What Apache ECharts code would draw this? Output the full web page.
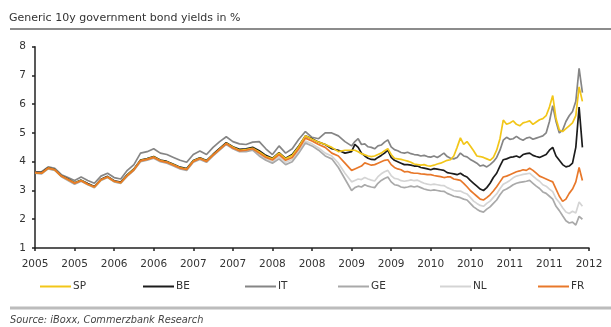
<!DOCTYPE html>
<html>
<head>
<meta charset="utf-8">
<script src="https://cdn.jsdelivr.net/npm/echarts@6/dist/echarts.min.js"></script>
<style>
  html, body { margin: 0; padding: 0; background: #fff; }
  #chart { width: 611px; height: 327px; }
</style>
</head>
<body>
<div id="chart"></div>
<script>
// x positions in months since Jan 2005 (monthly, then half-monthly from 2009)
const months = [0,1,2,3,4,5,6,7,8,9,10,11,12,13,14,15,16,17,18,19,20,21,22,23,24,25,26,27,28,29,30,31,32,33,34,35,36,37,38,39,40,41,42,43,44,45,46,47,48,
  48.5,49,49.5,50,50.5,51,51.5,52,52.5,53,53.5,54,54.5,55,55.5,56,56.5,57,57.5,58,58.5,59,59.5,60,60.5,61,61.5,62,62.5,63,63.5,64,64.5,65,65.5,66,66.5,67,67.5,68,68.5,69,69.5,70,70.5,71,71.5,72,72.5,73,73.5,74,74.5,75,75.5,76,76.5,77,77.5,78,78.5,79,79.5,80,80.5,81,81.5,82,82.5,83];

// x-axis tick labels, one per half year
const tickLabels = ['2005','2005','2006','2006','2007','2007','2008','2008','2009','2009','2010','2010','2011','2011','2012'];

// 10y yields in %
const SP = [3.62,3.6,3.78,3.72,3.5,3.38,3.26,3.35,3.22,3.12, 3.37,3.47,3.32,3.27,3.53,3.73,4.04,4.09,4.16,4.04, 3.99,3.89,3.79,3.74,4.02,4.12,4.02,4.24,4.44,4.64, 4.5,4.4,4.42,4.47,4.34,4.18,4.1,4.3,4.1,4.22, 4.52,4.9,4.78,4.68,4.6,4.5,4.35,4.4,4.4,
  4.4,4.35,4.28,4.24,4.2,4.18,4.2,4.25,4.3,4.38, 4.45,4.25,4.12,4.1,4.08,4.05,4.02,3.98,3.92,3.9, 3.88,3.9,3.86,3.85,3.88,3.92,3.95,4.0,4.05,4.07, 4.2,4.5,4.83,4.6,4.7,4.55,4.38,4.2,4.18,4.15, 4.1,4.05,4.15,4.4,4.8,5.45,5.3,5.35,5.42,5.3, 5.25,5.35,5.38,5.42,5.3,5.38,5.46,5.5,5.6,5.9, 6.3,5.5,5.1,5.05,5.15,5.25,5.35,5.6,6.6,6.1];

const BE = [3.63,3.62,3.79,3.73,3.51,3.4,3.27,3.36,3.24,3.14, 3.39,3.49,3.34,3.29,3.55,3.75,4.06,4.11,4.18,4.06, 4.01,3.91,3.81,3.76,4.04,4.14,4.04,4.26,4.46,4.66, 4.52,4.43,4.45,4.5,4.38,4.22,4.12,4.32,4.12,4.25, 4.55,4.9,4.8,4.68,4.6,4.45,4.4,4.3,4.35,
  4.6,4.5,4.3,4.2,4.12,4.08,4.07,4.15,4.22,4.3, 4.4,4.15,4.05,4.0,3.95,3.9,3.9,3.88,3.85,3.85, 3.8,3.78,3.75,3.72,3.76,3.74,3.72,3.7,3.62,3.6, 3.58,3.55,3.6,3.52,3.47,3.35,3.25,3.15,3.05,3.0, 3.1,3.25,3.45,3.6,3.85,4.07,4.1,4.15,4.17,4.2, 4.15,4.25,4.28,4.3,4.22,4.18,4.15,4.2,4.25,4.4, 4.5,4.2,4.05,3.9,3.82,3.85,3.95,4.5,5.9,4.5];

const IT = [3.65,3.65,3.82,3.77,3.55,3.45,3.35,3.47,3.35,3.25, 3.5,3.6,3.45,3.4,3.7,3.9,4.3,4.35,4.45,4.3, 4.25,4.15,4.05,3.98,4.25,4.37,4.25,4.5,4.7,4.87, 4.7,4.62,4.6,4.68,4.7,4.45,4.25,4.55,4.3,4.45, 4.78,5.05,4.85,4.8,5.0,5.0,4.9,4.7,4.55,
  4.7,4.8,4.6,4.62,4.52,4.5,4.45,4.55,4.58,4.68, 4.76,4.52,4.42,4.38,4.32,4.3,4.33,4.28,4.25,4.24, 4.2,4.22,4.18,4.16,4.2,4.15,4.22,4.3,4.18,4.12, 4.1,4.15,4.3,4.2,4.17,4.08,4.02,3.95,3.85,3.88, 3.82,3.9,4.0,4.15,4.4,4.75,4.85,4.78,4.8,4.88, 4.8,4.75,4.82,4.85,4.78,4.82,4.86,4.9,5.0,5.4, 5.95,5.4,5.0,5.1,5.4,5.6,5.75,6.1,7.25,6.4];

const GE = [3.6,3.58,3.75,3.7,3.48,3.35,3.22,3.32,3.2,3.1, 3.35,3.45,3.3,3.25,3.5,3.7,4.0,4.05,4.12,4.0, 3.95,3.85,3.75,3.7,3.98,4.08,3.98,4.2,4.4,4.6, 4.45,4.35,4.35,4.4,4.2,4.05,3.95,4.1,3.9,4.0, 4.3,4.65,4.55,4.4,4.2,4.1,3.8,3.4,3.0,
  3.1,3.15,3.12,3.2,3.15,3.12,3.1,3.25,3.35,3.42, 3.47,3.3,3.2,3.18,3.12,3.1,3.12,3.15,3.12,3.15, 3.1,3.05,3.02,3.0,3.02,3.0,2.98,2.97,2.9,2.85, 2.8,2.78,2.75,2.7,2.67,2.55,2.43,2.35,2.28,2.25, 2.35,2.43,2.55,2.67,2.85,3.0,3.05,3.12,3.2,3.25, 3.28,3.3,3.32,3.35,3.25,3.15,3.07,2.95,2.9,2.8, 2.7,2.45,2.3,2.12,1.95,1.87,1.9,1.8,2.1,2.0];

const NL = [3.61,3.59,3.77,3.71,3.49,3.37,3.24,3.33,3.21,3.11, 3.36,3.46,3.31,3.26,3.51,3.71,4.02,4.07,4.14,4.02, 3.97,3.87,3.77,3.72,4.0,4.1,4.0,4.22,4.42,4.62, 4.47,4.37,4.38,4.43,4.25,4.1,4.0,4.18,3.98,4.08, 4.38,4.72,4.62,4.48,4.3,4.2,3.95,3.6,3.3,
  3.35,3.4,3.38,3.45,3.4,3.36,3.33,3.48,3.58,3.65, 3.7,3.52,3.42,3.4,3.34,3.32,3.34,3.37,3.34,3.36, 3.3,3.25,3.22,3.2,3.22,3.2,3.18,3.17,3.1,3.05, 3.0,2.98,2.98,2.92,2.88,2.76,2.63,2.55,2.48,2.45, 2.55,2.63,2.76,2.88,3.06,3.22,3.28,3.35,3.44,3.5, 3.53,3.56,3.58,3.6,3.5,3.4,3.32,3.2,3.15,3.05, 2.96,2.72,2.58,2.4,2.25,2.2,2.28,2.22,2.6,2.45];

const FR = [3.62,3.6,3.78,3.72,3.5,3.38,3.25,3.34,3.22,3.12, 3.37,3.47,3.32,3.27,3.52,3.72,4.03,4.08,4.15,4.03, 3.98,3.88,3.78,3.73,4.01,4.11,4.01,4.23,4.43,4.63, 4.48,4.38,4.4,4.45,4.3,4.15,4.06,4.25,4.05,4.15, 4.45,4.82,4.72,4.6,4.5,4.3,4.2,3.95,3.7,
  3.75,3.8,3.85,3.96,3.92,3.88,3.9,3.95,4.0,4.05, 4.07,3.9,3.8,3.75,3.72,3.65,3.66,3.62,3.6,3.6, 3.58,3.57,3.55,3.55,3.52,3.5,3.48,3.45,3.47,3.47, 3.4,3.38,3.35,3.25,3.13,3.0,2.9,2.8,2.7,2.67, 2.75,2.85,2.98,3.13,3.3,3.47,3.5,3.55,3.6,3.65, 3.68,3.72,3.7,3.77,3.7,3.6,3.5,3.45,3.4,3.35, 3.3,3.05,2.8,2.62,2.7,2.9,3.05,3.3,3.8,3.35];

const seriesNames = ['SP', 'BE', 'IT', 'GE', 'NL', 'FR'];
const seriesValues = { SP, BE, IT, GE, NL, FR };
const colors = { SP: '#f2c619', BE: '#1c1c1c', IT: '#858585', GE: '#a9a9a9', NL: '#d4d4d4', FR: '#e8782a' };
// drawing order: pale lines underneath, orange on top
const drawOrder = ['NL', 'GE', 'IT', 'BE', 'SP', 'FR'];
// legend line start positions
const legendLeft = [40, 143, 245, 338, 440, 538];

const FONT = 'DejaVu Sans';

const chart = echarts.init(document.getElementById('chart'), null, { renderer: 'canvas' });

const series = drawOrder.map(name => ({
  name,
  type: 'line',
  showSymbol: false,
  symbol: 'none',
  smooth: false,
  data: months.map((m, i) => [m, seriesValues[name][i]]),
  lineStyle: { color: colors[name], width: 1.7 },
  itemStyle: { color: colors[name] },
  emphasis: { disabled: true },
  animation: false
}));

const legends = seriesNames.map((name, i) => ({
  data: [name],
  left: legendLeft[i],
  top: 281,
  icon: 'rect',
  itemWidth: 31,
  itemHeight: 2,
  textStyle: { fontFamily: FONT, fontSize: 10.5, color: '#333', padding: [0, 0, 0, -3] },
  selectedMode: false,
  padding: 0
}));

chart.setOption({
  backgroundColor: '#fff',
  animation: false,
  title: [
    {
      text: 'Generic 10y government bond yields in %',
      left: 9, top: 13, padding: 0,
      textStyle: { fontFamily: FONT, fontSize: 11, fontWeight: 'normal', color: '#333' }
    },
    {
      text: 'Source: iBoxx, Commerzbank Research',
      left: 10, top: 315, padding: 0,
      textStyle: { fontFamily: FONT, fontSize: 9.8, fontStyle: 'italic', fontWeight: 'normal', color: '#444' }
    }
  ],
  graphic: [
    { type: 'line', shape: { x1: 10, y1: 29, x2: 611, y2: 29 }, style: { stroke: '#8c8c8c', lineWidth: 2 } },
    { type: 'line', shape: { x1: 10, y1: 308, x2: 611, y2: 308 }, style: { stroke: '#bcbcbc', lineWidth: 3 } }
  ],
  legend: legends,
  grid: { left: 35, right: 22, top: 46.7, bottom: 79, containLabel: false },
  xAxis: {
    type: 'value',
    min: 0, max: 84, interval: 6,
    axisLine: { show: true, lineStyle: { color: '#222', width: 1.5 } },
    axisTick: { show: true, inside: false, length: 3, lineStyle: { color: '#222', width: 1.5 } },
    axisLabel: {
      fontFamily: FONT, fontSize: 10.5, color: '#333', margin: 11,
      formatter: v => tickLabels[Math.round(v / 6)]
    },
    splitLine: { show: false }
  },
  yAxis: {
    type: 'value',
    min: 1, max: 8, interval: 1,
    axisLine: { show: true, lineStyle: { color: '#222', width: 1.5 } },
    axisTick: { show: true, inside: false, length: 3, lineStyle: { color: '#222', width: 1.5 } },
    axisLabel: { fontFamily: FONT, fontSize: 10.5, color: '#333', margin: 9 },
    splitLine: { show: false }
  },
  series
});
</script>
</body>
</html>
